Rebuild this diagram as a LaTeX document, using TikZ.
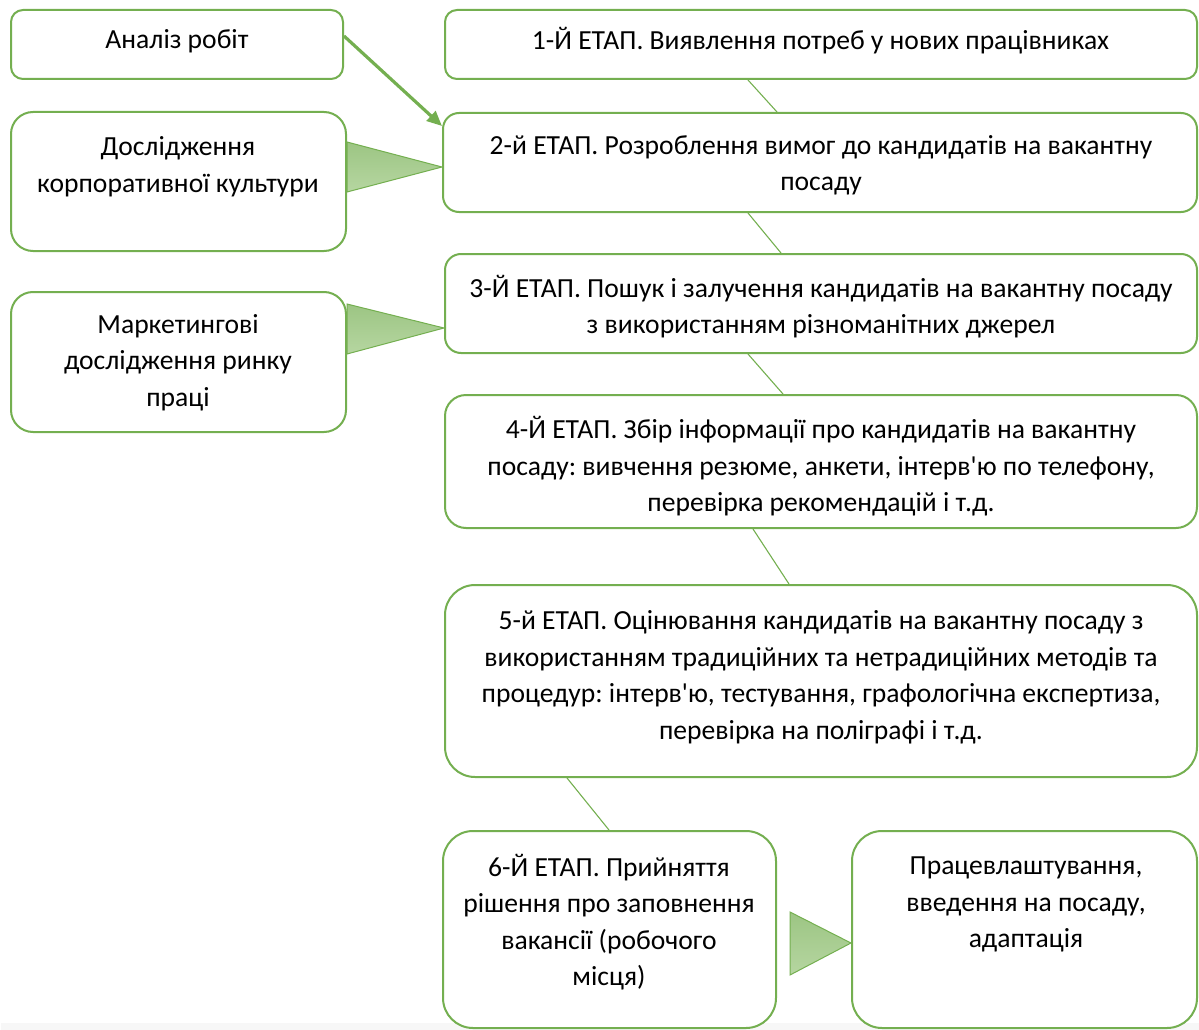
\documentclass[tikz,border=0pt]{standalone}
\usepackage{fontspec}
\setmainfont{Carlito}[Ligatures=TeXOff]
\usetikzlibrary{arrows.meta,calc}
\definecolor{gline}{HTML}{74AF50}
\definecolor{gtop}{HTML}{9CC583}
\definecolor{gbot}{HTML}{B6D6A1}
\definecolor{band}{HTML}{F7F7F7}
\tikzset{
  box/.style={draw=gline, line width=2pt, fill=white, rounded corners=#1, inner sep=0pt},
  box/.default=12pt,
  txt/.style={align=center, inner sep=0pt, font=\fontsize{27.6}{36.5}\selectfont\frenchspacing, text=black},
  thin/.style={draw=gline, line width=1.1pt},
  tri/.style={draw=gline, line width=1pt, top color=gtop, bottom color=gbot, line join=miter},
  arr/.style={draw=gline, line width=3.2pt, -{Triangle[length=15pt,width=13pt]}}
}
\begin{document}
\begin{tikzpicture}[x=1pt,y=-1pt]
\useasboundingbox (0,0) rectangle (1199,1030);
\fill[band] (1,1023) rectangle (1199,1030);
% boxes
\node[box=12pt, minimum width=332pt, minimum height=69pt] (ana) at (177,44.5) {};
\node[box=12pt, minimum width=752pt, minimum height=69pt] (e1) at (821,44.5) {};
\node[box=22pt, minimum width=335pt, minimum height=139pt] (dos) at (178.5,181.5) {};
\node[box=16pt, minimum width=754pt, minimum height=99pt] (e2) at (820,162.5) {};
\node[box=22pt, minimum width=335pt, minimum height=140pt] (mar) at (178.5,362) {};
\node[box=16pt, minimum width=752pt, minimum height=99pt] (e3) at (821,303.5) {};
\node[box=21pt, minimum width=752pt, minimum height=133pt] (e4) at (821,461.5) {};
\node[box=30pt, minimum width=752pt, minimum height=192pt] (e5) at (821,681) {};
\node[box=30pt, minimum width=333pt, minimum height=197pt] (e6) at (609.5,929.5) {};
\node[box=30pt, minimum width=345pt, minimum height=197pt] (pr) at (1024.5,929.5) {};
% texts
\node[txt] (tana) at (177,41) {Аналіз робіт};
\node[txt] (te1) at (820.5,41) {1-Й ЕТАП. Виявлення потреб у нових працівниках};
\node[txt] (tdos) at (178,166.5) {Дослідження\\корпоративної культури};
\node[txt] (te2) at (821,165.5) {2-й ЕТАП. Розроблення вимог до кандидатів на вакантну\\посаду};
\node[txt] (tmar) at (178,362.5) {Маркетингові\\дослідження ринку\\праці};
\node[txt] (te3) at (821,306.5) {3-Й ЕТАП. Пошук і залучення кандидатів на вакантну посаду\\з використанням різноманітних джерел};
\node[txt] (te4) at (821,466.5) {4-Й ЕТАП. Збір інформації про кандидатів на вакантну\\посаду: вивчення резюме, анкети, інтерв'ю по телефону,\\перевірка рекомендацій і т.д.};
\node[txt] (te5) at (821,677.5) {5-й ЕТАП. Оцінювання кандидатів на вакантну посаду з\\використанням традиційних та нетрадиційних методів та\\процедур: інтерв'ю, тестування, графологічна експертиза,\\перевірка на поліграфі і т.д.};
\node[txt] (te6) at (609,922) {6-Й ЕТАП. Прийняття\\рішення про заповнення\\вакансії (робочого\\місця)};
\node[txt] (tpr) at (1026,904.5) {Працевлаштування,\\введення на посаду,\\адаптація};
% thin connectors
\draw[thin] (748,0 |- e1.south) -- (777,0 |- e2.north);
\draw[thin] (748,0 |- e2.south) -- (781,0 |- e3.north);
\draw[thin] (748,0 |- e3.south) -- (783,0 |- e4.north);
\draw[thin] (753,0 |- e4.south) -- (789,0 |- e5.north);
\draw[thin] (567,0 |- e5.south) -- (609,0 |- e6.north);
% triangles
\path[tri] (dos.east |- 0,142) -- (e2.west |- 0,167) -- (dos.east |- 0,192) -- cycle;
\path[tri] (mar.east |- 0,304) -- (e3.west |- 0,328) -- (mar.east |- 0,354) -- cycle;
\path[tri] (790,912) -- (pr.west |- 0,943) -- (790,975) -- cycle;
% arrow
\draw[arr] (ana.east |- 0,36) -- (e2.west |- 0,126);
\end{tikzpicture}
\end{document}
